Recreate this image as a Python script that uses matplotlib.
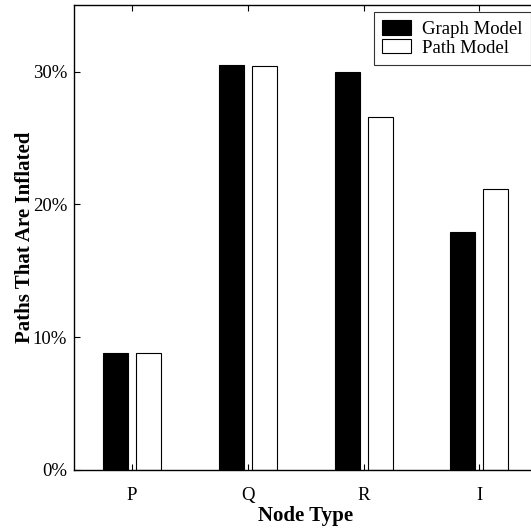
import matplotlib
matplotlib.use("Agg")
import matplotlib.pyplot as plt
import numpy as np
from matplotlib.ticker import FuncFormatter

plt.rcParams['font.family'] = ['Liberation Serif', 'DejaVu Serif']

node_types = ['P', 'Q', 'R', 'I']
graph_model = [8.8, 30.5, 29.95, 17.95]
path_model = [8.8, 30.45, 26.6, 21.15]

fig = plt.figure(figsize=(5.31, 5.31), dpi=100)
# right side of the axes runs past the figure edge, as in the original
ax = fig.add_axes([0.1394, 0.1149, 0.8723, 0.875])

x = np.arange(1, len(node_types) + 1)
w = 0.216
off = 0.1425
ax.bar(x - off, graph_model, w, color='black', edgecolor='black', linewidth=0.8, label='Graph Model')
ax.bar(x + off, path_model, w, color='white', edgecolor='black', linewidth=0.8, label='Path Model')

ax.set_xlim(0.5, 4.5)
ax.set_ylim(0, 35)
ax.set_xticks(x)
ax.set_xticklabels(node_types)
ax.set_yticks([0, 10, 20, 30])
ax.yaxis.set_major_formatter(FuncFormatter(lambda v, p: '%d%%' % v))
ax.tick_params(direction='in', length=4, width=0.8, top=True, right=True, labelsize=13.5)
ax.tick_params(axis='x', pad=12)
ax.tick_params(axis='y', pad=5)
for s in ax.spines.values():
    s.set_linewidth(1.0)

ax.set_xlabel('Node Type', fontsize=15, fontweight='bold', labelpad=2)
ax.set_ylabel('Paths That Are Inflated', fontsize=15, fontweight='bold', labelpad=-2)

leg = ax.legend(loc='upper right', fontsize=13.5, frameon=True, fancybox=False,
                edgecolor='black', borderaxespad=0.35, handlelength=1.55, handleheight=0.8,
                labelspacing=0.05, borderpad=0.45, handletextpad=0.55)
leg.get_frame().set_linewidth(0.8)

fig.savefig('out.png', dpi=100)
